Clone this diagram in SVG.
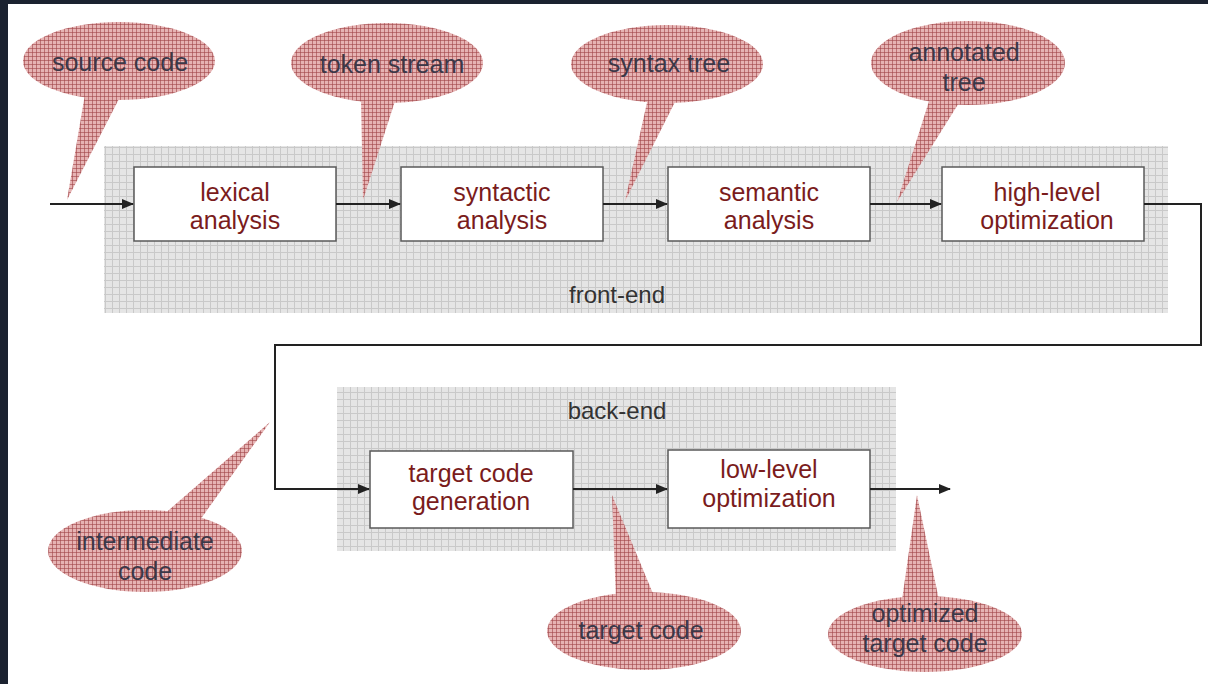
<svg xmlns="http://www.w3.org/2000/svg" width="1208" height="684" viewBox="0 0 1208 684">
<defs>
<pattern id="grid" width="7" height="7" patternUnits="userSpaceOnUse">
<rect width="7" height="7" fill="#e5e5e5"/>
<path d="M0 0.5H7M0.5 0V7" stroke="#c9c9c9" stroke-width="1"/>
</pattern>
<pattern id="check" width="4" height="4" patternUnits="userSpaceOnUse">
<rect width="4" height="4" fill="#e6b3b3"/>
<path d="M0 0.5H4M0.5 0V4" stroke="#a04448" stroke-width="1" stroke-opacity="0.6"/>
</pattern>
<marker id="arr" viewBox="0 0 12 10" refX="11" refY="5" markerWidth="12" markerHeight="10" markerUnits="userSpaceOnUse" orient="auto">
<path d="M0 0L12 5L0 10z" fill="#222"/>
</marker>
</defs>
<style>
.panel{fill:url(#grid)}
.box{fill:#fff;stroke:#5a5a5a;stroke-width:1.5}
.bt{font-family:"Liberation Sans",Arial,sans-serif;font-size:25px;fill:#7a1c1c;text-anchor:middle}
.ct{font-family:"Liberation Sans",Arial,sans-serif;font-size:25px;fill:#3b3848;text-anchor:middle}
.pt{font-family:"Liberation Sans",Arial,sans-serif;font-size:24px;fill:#333;text-anchor:middle}
.call{fill:url(#check)}
.conn{fill:none;stroke:#222;stroke-width:2}
</style>
<rect width="1208" height="684" fill="#1b2230"/>
<rect x="8" y="4" width="1200" height="680" fill="#fff"/>

<g id="front-end">
<rect class="panel" x="104" y="146" width="1064" height="167"/>
<text class="pt" x="617" y="303">front-end</text>
</g>
<g id="back-end">
<rect class="panel" x="337" y="387" width="559" height="164"/>
<text class="pt" x="617" y="419">back-end</text>
</g>

<g id="callout-source-code" class="call">
<ellipse cx="119" cy="61" rx="96" ry="39"/>
<polygon points="85,94 120,97 67,200"/>
<text class="ct" x="120" y="71">source code</text>
</g>
<g id="callout-token-stream" class="call">
<ellipse cx="387" cy="63" rx="96" ry="40"/>
<polygon points="361,98 396,98 363,200"/>
<text class="ct" x="392" y="73">token stream</text>
</g>
<g id="callout-syntax-tree" class="call">
<ellipse cx="667" cy="64" rx="96" ry="39"/>
<polygon points="648,98 677,98 625,201"/>
<text class="ct" x="669" y="72">syntax tree</text>
</g>
<g id="callout-annotated-tree" class="call">
<ellipse cx="968" cy="63" rx="97" ry="42"/>
<polygon points="930,98 962,98 897,202"/>
<text class="ct" x="964" y="61">annotated</text>
<text class="ct" x="964" y="91">tree</text>
</g>
<g id="callout-intermediate-code" class="call">
<ellipse cx="145" cy="551" rx="97" ry="41"/>
<polygon points="162,516 200,520 270,422"/>
<text class="ct" x="145" y="550">intermediate</text>
<text class="ct" x="145" y="580">code</text>
</g>
<g id="callout-target-code" class="call">
<ellipse cx="644" cy="631" rx="97" ry="39"/>
<polygon points="616,600 654,596 612,495"/>
<text class="ct" x="641" y="639">target code</text>
</g>
<g id="callout-optimized-target-code" class="call">
<ellipse cx="925" cy="634" rx="97" ry="38"/>
<polygon points="902,600 939,600 917,495"/>
<text class="ct" x="925" y="622">optimized</text>
<text class="ct" x="925" y="652">target code</text>
</g>

<g id="lexical-analysis">
<rect class="box" x="134" y="167" width="202" height="74"/>
<text class="bt" x="235" y="201">lexical</text>
<text class="bt" x="235" y="229">analysis</text>
</g>
<g id="syntactic-analysis">
<rect class="box" x="401" y="167" width="202" height="74"/>
<text class="bt" x="502" y="201">syntactic</text>
<text class="bt" x="502" y="229">analysis</text>
</g>
<g id="semantic-analysis">
<rect class="box" x="668" y="167" width="202" height="74"/>
<text class="bt" x="769" y="201">semantic</text>
<text class="bt" x="769" y="229">analysis</text>
</g>
<g id="high-level-optimization">
<rect class="box" x="942" y="167" width="202" height="74"/>
<text class="bt" x="1047" y="201">high-level</text>
<text class="bt" x="1047" y="229">optimization</text>
</g>
<g id="target-code-generation">
<rect class="box" x="370" y="451" width="203" height="77"/>
<text class="bt" x="471" y="482">target code</text>
<text class="bt" x="471" y="510">generation</text>
</g>
<g id="low-level-optimization">
<rect class="box" x="668" y="450" width="202" height="78"/>
<text class="bt" x="769" y="478">low-level</text>
<text class="bt" x="769" y="507">optimization</text>
</g>

<g id="connectors">
<path class="conn" d="M50 204H133" marker-end="url(#arr)"/>
<path class="conn" d="M336 204H400" marker-end="url(#arr)"/>
<path class="conn" d="M603 204H667" marker-end="url(#arr)"/>
<path class="conn" d="M870 204H941" marker-end="url(#arr)"/>
<path class="conn" d="M1144 204H1201V345H275V489H369" marker-end="url(#arr)"/>
<path class="conn" d="M573 489H667" marker-end="url(#arr)"/>
<path class="conn" d="M870 489H950" marker-end="url(#arr)"/>
</g>
</svg>
